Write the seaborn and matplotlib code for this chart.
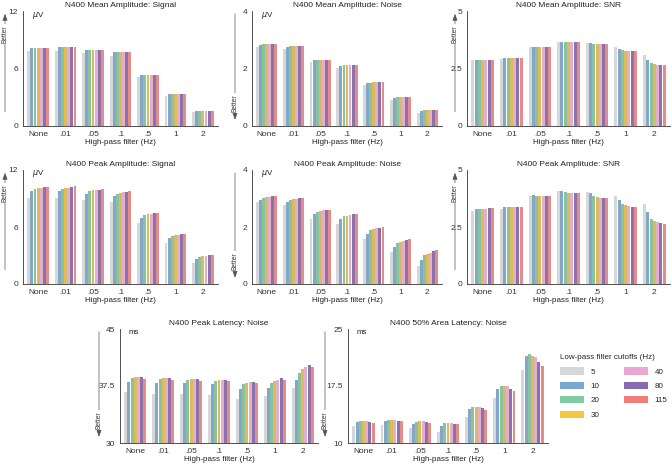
import pandas as pd
import matplotlib.pyplot as plt
import seaborn as sns
from matplotlib.patches import Patch

# Kategorie
hp_labels = ["None", ".01", ".05", ".1", ".5", "1", "2"]
lp_labels = ["5", "10", "20", "30", "40", "80", "115"]
lp_colors = ["#d6d7d9", "#79a8d0", "#7dcca3", "#f5c63f", "#e9a7d2", "#8a69b3", "#f47c7a"]

# Wartości (wiersz = filtr górnoprzepustowy, kolumna = filtr dolnoprzepustowy)
mean_signal = [
    [7.85, 8.15, 8.15, 8.15, 8.15, 8.15, 8.15],
    [7.85, 8.2, 8.2, 8.2, 8.2, 8.2, 8.2],
    [7.6, 7.9, 7.9, 7.9, 7.9, 7.9, 7.9],
    [7.35, 7.68, 7.7, 7.7, 7.7, 7.7, 7.7],
    [5.1, 5.35, 5.37, 5.37, 5.37, 5.37, 5.37],
    [3.1, 3.3, 3.3, 3.3, 3.3, 3.3, 3.3],
    [1.43, 1.52, 1.53, 1.53, 1.53, 1.53, 1.53],
]
mean_noise = [
    [2.76, 2.83, 2.85, 2.85, 2.85, 2.86, 2.86],
    [2.69, 2.76, 2.78, 2.78, 2.78, 2.78, 2.78],
    [2.22, 2.28, 2.3, 2.3, 2.3, 2.31, 2.31],
    [2.01, 2.09, 2.11, 2.12, 2.12, 2.12, 2.12],
    [1.42, 1.49, 1.51, 1.52, 1.52, 1.52, 1.52],
    [0.91, 0.98, 1.0, 1.01, 1.01, 1.02, 1.02],
    [0.44, 0.51, 0.54, 0.55, 0.55, 0.56, 0.56],
]
mean_snr = [
    [2.85, 2.89, 2.89, 2.89, 2.89, 2.89, 2.89],
    [2.92, 2.97, 2.97, 2.97, 2.97, 2.97, 2.97],
    [3.43, 3.43, 3.43, 3.43, 3.43, 3.43, 3.43],
    [3.65, 3.65, 3.65, 3.65, 3.65, 3.65, 3.65],
    [3.62, 3.59, 3.56, 3.55, 3.55, 3.55, 3.55],
    [3.43, 3.36, 3.3, 3.28, 3.27, 3.27, 3.27],
    [3.07, 2.85, 2.73, 2.69, 2.67, 2.67, 2.67],
]
peak_signal = [
    [9.1, 9.76, 9.97, 10.08, 10.11, 10.18, 10.25],
    [9.1, 9.76, 10.0, 10.1, 10.15, 10.2, 10.29],
    [8.82, 9.52, 9.76, 9.87, 9.9, 9.94, 10.0],
    [8.64, 9.27, 9.52, 9.62, 9.69, 9.73, 9.8],
    [6.37, 6.96, 7.24, 7.35, 7.38, 7.45, 7.52],
    [4.27, 4.83, 5.07, 5.14, 5.18, 5.25, 5.28],
    [2.24, 2.66, 2.87, 2.94, 2.97, 3.04, 3.08],
]
peak_noise = [
    [2.86, 2.95, 3.03, 3.04, 3.06, 3.08, 3.08],
    [2.78, 2.88, 2.96, 2.97, 2.99, 3.01, 3.01],
    [2.29, 2.44, 2.53, 2.55, 2.58, 2.59, 2.6],
    [2.12, 2.27, 2.37, 2.4, 2.43, 2.45, 2.46],
    [1.57, 1.76, 1.89, 1.92, 1.95, 1.97, 1.99],
    [1.12, 1.31, 1.43, 1.49, 1.52, 1.55, 1.57],
    [0.63, 0.85, 1.01, 1.07, 1.1, 1.15, 1.18],
]
peak_snr = [
    [3.2, 3.3, 3.31, 3.31, 3.31, 3.32, 3.33],
    [3.28, 3.39, 3.39, 3.39, 3.39, 3.39, 3.39],
    [3.86, 3.91, 3.87, 3.84, 3.84, 3.84, 3.84],
    [4.09, 4.09, 4.02, 4.0, 4.0, 4.0, 4.0],
    [4.03, 3.97, 3.84, 3.81, 3.78, 3.78, 3.78],
    [3.87, 3.7, 3.52, 3.45, 3.42, 3.39, 3.39],
    [3.53, 3.15, 2.86, 2.77, 2.74, 2.68, 2.65],
]
peak_latency = [
    [36.69, 38.05, 38.57, 38.7, 38.7, 38.7, 38.4],
    [36.47, 37.91, 38.44, 38.57, 38.57, 38.57, 38.3],
    [36.5, 37.87, 38.35, 38.44, 38.44, 38.44, 38.22],
    [36.3, 37.74, 38.18, 38.3, 38.3, 38.3, 38.1],
    [35.8, 37.08, 37.78, 37.96, 38.04, 38.04, 37.96],
    [36.17, 37.26, 37.87, 38.18, 38.3, 38.53, 38.3],
    [37.26, 38.3, 39.23, 39.75, 39.97, 40.23, 40.0],
]
area_latency = [
    [12.19, 12.72, 12.85, 12.9, 12.9, 12.81, 12.68],
    [12.37, 12.9, 13.03, 13.07, 13.03, 12.94, 12.85],
    [12.02, 12.54, 12.81, 12.9, 12.9, 12.76, 12.68],
    [11.49, 12.28, 12.59, 12.68, 12.63, 12.54, 12.46],
    [13.46, 14.43, 14.78, 14.78, 14.78, 14.6, 14.39],
    [15.88, 17.15, 17.54, 17.54, 17.5, 17.15, 16.84],
    [19.56, 21.4, 21.75, 21.49, 21.36, 20.7, 20.09],
]

sns.set_style("white")
plt.rcParams["font.family"] = ["Liberation Sans", "DejaVu Sans"]

W, H = 672, 470
fig = plt.figure(figsize=(W / 100, H / 100), dpi=100)

# (dane, tytuł, jednostka, zakres, ticki, etykiety, kierunek strzałki, prostokąt osi w px, x strzałki w px)
panels = [
    (mean_signal, "N400 Mean Amplitude: Signal", r"$\mu$V", (0, 12), [0, 6, 12], ["0", "6", "12"], "up", (23, 11, 218, 126), 5),
    (mean_noise, "N400 Mean Amplitude: Noise", r"$\mu$V", (0, 4), [0, 2, 4], ["0", "2", "4"], "down", (252, 11, 442, 126), 235),
    (mean_snr, "N400 Mean Amplitude: SNR", "", (0, 5), [0, 2.5, 5], ["0", "2.5", "5"], "up", (467, 11, 670, 126), 455),
    (peak_signal, "N400 Peak Amplitude: Signal", r"$\mu$V", (0, 12), [0, 6, 12], ["0", "6", "12"], "up", (23, 170, 218, 284), 5),
    (peak_noise, "N400 Peak Amplitude: Noise", r"$\mu$V", (0, 4), [0, 2, 4], ["0", "2", "4"], "down", (252, 170, 442, 284), 235),
    (peak_snr, "N400 Peak Amplitude: SNR", "", (0, 5), [0, 2.5, 5], ["0", "2.5", "5"], "up", (467, 170, 670, 284), 455),
    (peak_latency, "N400 Peak Latency: Noise", "ms", (30, 45), [30, 37.5, 45], ["30", "37.5", "45"], "down", (120, 329, 318, 443), 99),
    (area_latency, "N400 50% Area Latency: Noise", "ms", (10, 25), [10, 17.5, 25], ["10", "17.5", "25"], "down", (348, 329, 548, 443), 325),
]

for vals, title, unit, ylim, yticks, yticklabels, direction, (l, t, r, b), ax_px in panels:
    ax = fig.add_axes([l / W, 1 - b / H, (r - l) / W, (b - t) / H])
    rows = []
    for i, hp in enumerate(hp_labels):
        for j, lp in enumerate(lp_labels):
            rows.append({"hp": hp, "lp": lp, "val": vals[i][j]})
    df = pd.DataFrame(rows)
    sns.barplot(data=df, x="hp", y="val", hue="lp", order=hp_labels, hue_order=lp_labels,
                palette=lp_colors, gap=0.08, legend=False, ax=ax, linewidth=0)
    ax.set_ylim(*ylim)
    ax.set_yticks(yticks)
    ax.set_yticklabels(yticklabels)
    ax.set_xlim(-0.55, 6.55)
    ax.set_title(title, fontsize=6, pad=3, color="#222222")
    ax.set_xlabel("High-pass filter (Hz)", fontsize=5.8, labelpad=1, color="#222222")
    ax.set_ylabel("")
    sns.despine(ax=ax)
    for s in ["left", "bottom"]:
        ax.spines[s].set_linewidth(0.6)
        ax.spines[s].set_color("#333333")
    ax.tick_params(axis="both", length=2, width=0.5, pad=1.5, labelsize=6, colors="#333333")
    if unit:
        ax.text(0.045, 0.965, unit, transform=ax.transAxes, fontsize=5.8, va="center", ha="left", color="#222222")

    # Strzałka "Better"
    xa = (ax_px - l) / (r - l)
    if direction == "up":
        ax.annotate("", xy=(xa, 1.0), xytext=(xa, 0.1), xycoords="axes fraction",
                    arrowprops=dict(arrowstyle="-|>,head_length=0.4,head_width=0.15", lw=0.5, color="#555555"),
                    annotation_clip=False)
        ty = 0.8
    else:
        ax.annotate("", xy=(xa, 0.03), xytext=(xa, 1.0), xycoords="axes fraction",
                    arrowprops=dict(arrowstyle="-|>,head_length=0.4,head_width=0.15", lw=0.5, color="#555555"),
                    annotation_clip=False)
        ty = 0.2
    ax.text(xa, ty, "Better", transform=ax.transAxes, rotation=90, fontsize=4.8, ha="center", va="center",
            color="#333333", bbox=dict(facecolor="white", edgecolor="none", pad=0.8), clip_on=False)

handles = [Patch(facecolor=c, edgecolor="none", label=lab) for c, lab in zip(lp_colors, lp_labels)]
fig.legend(handles=handles, ncol=2, loc="upper left", bbox_to_anchor=(553 / W, 1 - 347 / H),
           frameon=False, fontsize=5.8, title="Low-pass filter cutoffs (Hz)", title_fontsize=5.8,
           handlelength=3.0, handleheight=1.0, columnspacing=3.0, labelspacing=0.75, alignment="left")

fig.savefig("out.png", dpi=100)
